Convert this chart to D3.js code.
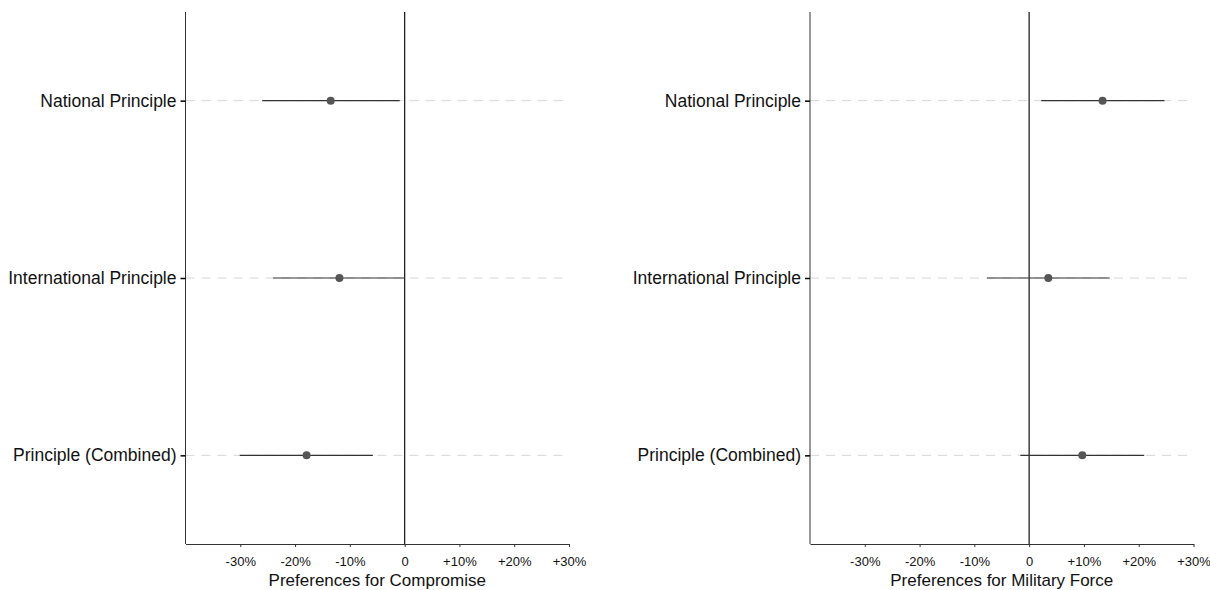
<!DOCTYPE html>
<html>
<head>
<meta charset="utf-8">
<script src="https://cdn.jsdelivr.net/npm/d3@7"></script>
<style>
  body { margin: 0; background: #fff; }
  svg { display: block; font-family: "Liberation Sans", Arial, Helvetica, sans-serif; }
</style>
</head>
<body>
<svg id="chart" width="1210" height="590"></svg>
<script>
// categories, top to bottom
const categories = ["National Principle", "International Principle", "Principle (Combined)"];

// Preferences for Compromise (percentage points)
const compromiseEst = [-13.5, -11.9, -17.9];
const compromiseLow = [-26.0, -24.0, -30.1];
const compromiseHigh = [-0.9, 0.0, -5.8];

// Preferences for Military Force (percentage points)
const forceEst = [13.4, 3.5, 9.7];
const forceLow = [2.2, -7.7, -1.6];
const forceHigh = [24.7, 14.7, 21.0];

const xTicks = [-30, -20, -10, 0, 10, 20, 30];
const fmtTick = d => d === 0 ? "0" : (d > 0 ? "+" : "") + d + "%";

const svg = d3.select("#chart");

// draws one panel of the coefficient plot
function drawPanel(left, title, est, low, high) {
  const top = 12, bottom = 544;
  const x = d3.scaleLinear().domain([-40, 30]).range([left, left + 383.5]);
  const y = d3.scalePoint().domain(categories).range([top, bottom]).padding(0.5);

  const g = svg.append("g");

  // dashed guide lines
  g.selectAll(".guide")
    .data(categories)
    .join("line")
    .attr("x1", x(-40))
    .attr("x2", x(30))
    .attr("y1", d => y(d))
    .attr("y2", d => y(d))
    .attr("stroke", "#d6d6d6")
    .attr("stroke-width", 1)
    .attr("stroke-dasharray", "9,7");

  // x axis
  const xAxis = g.append("g")
    .attr("transform", `translate(0,${bottom})`)
    .call(d3.axisBottom(x).tickValues(xTicks).tickFormat(fmtTick).tickSize(3).tickSizeOuter(0));
  xAxis.select(".domain").attr("stroke", "#333");
  xAxis.selectAll(".tick line").attr("stroke", "#333");
  xAxis.selectAll(".tick text")
    .attr("dy", "0")
    .attr("y", 22)
    .style("font-size", "13px")
    .attr("fill", "#111")
    .attr("font-family", "Liberation Sans, Arial, sans-serif");

  // y axis
  const yAxis = g.append("g")
    .attr("transform", `translate(${left},0)`)
    .call(d3.axisLeft(y).tickSize(5).tickSizeOuter(0).tickPadding(4));
  yAxis.select(".domain").attr("stroke", "#333").attr("d", `M0,${top}V${bottom}`);
  yAxis.selectAll(".tick line").attr("stroke", "#000").attr("stroke-width", 1.5);
  yAxis.selectAll(".tick text")
    .style("font-size", "17.5px")
    .attr("fill", "#111")
    .attr("font-family", "Liberation Sans, Arial, sans-serif");

  // zero line
  g.append("line")
    .attr("x1", x(0)).attr("x2", x(0))
    .attr("y1", top).attr("y2", bottom)
    .attr("stroke", "#222")
    .attr("stroke-width", 1.3);

  // confidence intervals
  g.selectAll(".ci")
    .data(categories)
    .join("line")
    .attr("x1", (d, i) => x(low[i]))
    .attr("x2", (d, i) => x(high[i]))
    .attr("y1", d => y(d))
    .attr("y2", d => y(d))
    .attr("stroke", "#333")
    .attr("stroke-width", 1.2);

  // point estimates
  g.selectAll(".pt")
    .data(categories)
    .join("circle")
    .attr("cx", (d, i) => x(est[i]))
    .attr("cy", d => y(d))
    .attr("r", 4)
    .attr("fill", "#555");

  // axis title
  g.append("text")
    .attr("x", x(-5))
    .attr("y", 586)
    .attr("text-anchor", "middle")
    .style("font-size", "17px")
    .attr("fill", "#111")
    .text(title);
}

drawPanel(185.5, "Preferences for Compromise", compromiseEst, compromiseLow, compromiseHigh);
drawPanel(810, "Preferences for Military Force", forceEst, forceLow, forceHigh);
</script>
</body>
</html>
